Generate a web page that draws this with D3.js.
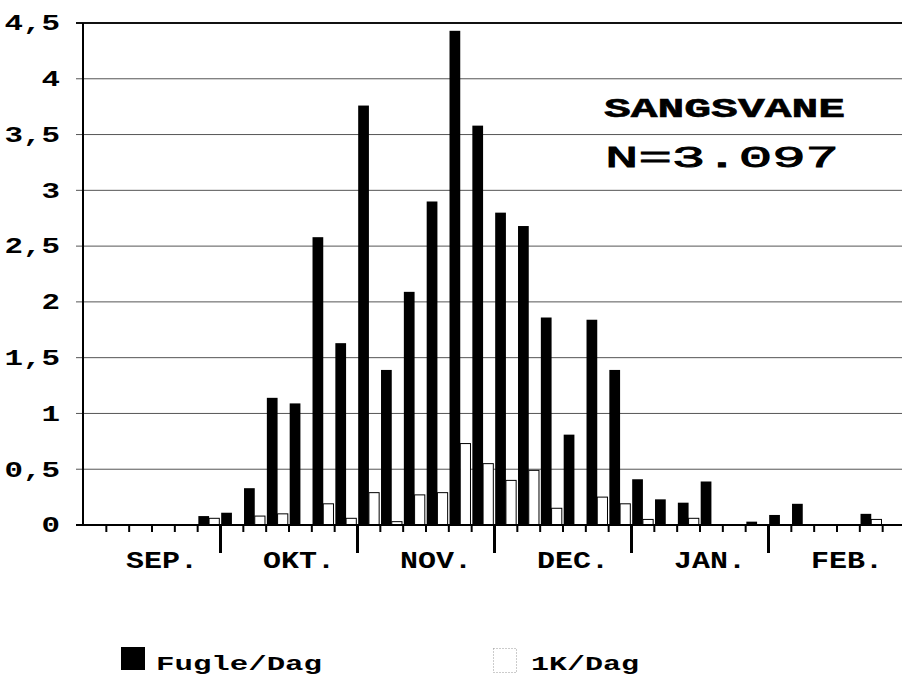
<!DOCTYPE html>
<html>
<head>
<meta charset="utf-8">
<script src="https://cdn.jsdelivr.net/npm/d3@7"></script>
<style>
  body { margin: 0; background: #fff; }
  text { font-family: "Courier New", "Liberation Mono", monospace; font-weight: bold; fill: #000; }
</style>
</head>
<body>
<script>
//chart data (5-day periods, 6 per month)
const months = ["SEP.", "OKT.", "NOV.", "DEC.", "JAN.", "FEB."];
const fugleDag = [0, 0, 0, 0, 0, 0.08,
                  0.11, 0.33, 1.14, 1.09, 2.58, 1.63,
                  3.76, 1.39, 2.09, 2.90, 4.43, 3.58,
                  2.80, 2.68, 1.86, 0.81, 1.84, 1.39,
                  0.41, 0.23, 0.20, 0.39, 0, 0.03,
                  0.09, 0.19, 0, 0, 0.10, 0];
const kDag = [0, 0, 0, 0, 0, 0.06,
              0, 0.08, 0.1, 0, 0.19, 0.06,
              0.29, 0.03, 0.27, 0.29, 0.73, 0.55,
              0.40, 0.49, 0.15, 0, 0.25, 0.19,
              0.05, 0, 0.06, 0, 0, 0,
              0, 0, 0, 0, 0.05, 0];
const yTicks = [0, 0.5, 1, 1.5, 2, 2.5, 3, 3.5, 4, 4.5];
const yTickLabels = ["0", "0,5", "1", "1,5", "2", "2,5", "3", "3,5", "4", "4,5"];
const title = "SANGSVANE";
const subtitle = "N=3.097";
const legendNames = ["Fugle/Dag", "1K/Dag"];

const width = 902, height = 677;
const nBins = months.length * 6;

const svg = d3.select("body").append("svg")
    .attr("width", width).attr("height", height);
svg.append("rect").attr("width", width).attr("height", height).attr("fill", "#fff");

//scales
const y = d3.scaleLinear().domain([0, 4.5]).range([525, 23]);
const xb = d3.scaleLinear().domain([0, nBins]).range([83.5, 905.5]);
const x0 = d3.scaleBand().domain(d3.range(nBins)).range([83.5, 905.5])
    .paddingInner(0.06).paddingOuter(0.03);
const x1 = d3.scaleBand().domain(["f", "k"]).range([0, x0.bandwidth()]);

//gridlines + y ticks
svg.append("g").selectAll("line").data(yTicks).enter().append("line")
    .attr("x1", 76).attr("x2", width)
    .attr("y1", d => y(d)).attr("y2", d => y(d))
    .attr("stroke", d => d === 4.5 ? "#111" : "#555")
    .attr("stroke-width", d => d === 4.5 ? 2 : 1);

svg.append("g").selectAll("text").data(yTicks).enter().append("text")
    .attr("x", 60).attr("y", d => y(d) + 7.3)
    .attr("text-anchor", "end")
    .attr("font-size", 22)
    .attr("textLength", (d, i) => yTickLabels[i].length * 18.5)
    .attr("lengthAdjust", "spacingAndGlyphs")
    .text((d, i) => yTickLabels[i]);

//bars
const bars = svg.append("g");
bars.selectAll(".fugle").data(fugleDag).enter().append("rect").classed("fugle", true)
    .attr("x", (d, i) => x0(i) + x1("f"))
    .attr("width", x1.bandwidth())
    .attr("y", d => y(d))
    .attr("height", d => y(0) - y(d))
    .attr("fill", "#000")
    .style("display", d => d > 0 ? null : "none");

bars.selectAll(".kdag").data(kDag).enter().append("rect").classed("kdag", true)
    .attr("x", (d, i) => x0(i) + x1("k"))
    .attr("width", x1.bandwidth() - 0.5)
    .attr("y", d => y(d))
    .attr("height", d => y(0) - y(d))
    .attr("fill", "#fff").attr("stroke", "#000").attr("stroke-width", 1)
    .style("display", d => d > 0 ? null : "none");

//axes
const ticksG = svg.append("g");
// small ticks at period boundaries
ticksG.selectAll(".tk").data(d3.range(1, nBins).filter(i => i % 6 !== 0)).enter()
    .append("line").classed("tk", true)
    .attr("x1", d => xb(d)).attr("x2", d => xb(d))
    .attr("y1", y(0)).attr("y2", y(0) + 7)
    .attr("stroke", "#000").attr("stroke-width", 2);
// month separators
ticksG.selectAll(".sep").data(d3.range(6, nBins, 6)).enter()
    .append("line").classed("sep", true)
    .attr("x1", d => xb(d)).attr("x2", d => xb(d))
    .attr("y1", y(0)).attr("y2", y(0) + 28)
    .attr("stroke", "#000").attr("stroke-width", 3);

svg.append("line").attr("x1", 76).attr("x2", width).attr("y1", y(0)).attr("y2", y(0))
    .attr("stroke", "#000").attr("stroke-width", 2);
svg.append("line").attr("x1", 83).attr("x2", 83).attr("y1", y(4.5)).attr("y2", y(0) + 1)
    .attr("stroke", "#000").attr("stroke-width", 2);

// month labels
svg.append("g").selectAll("text").data(months).enter().append("text")
    .attr("x", (d, i) => xb(i * 6 + 3) - 26)
    .attr("y", 568)
    .attr("font-size", 23)
    .attr("textLength", 72)
    .attr("lengthAdjust", "spacingAndGlyphs")
    .text(d => d);

//title
svg.append("text").attr("x", 604).attr("y", 117)
    .attr("font-size", 28).attr("textLength", 241).attr("lengthAdjust", "spacingAndGlyphs")
    .attr("stroke", "#000").attr("stroke-width", 0.6)
    .text(title);
svg.append("text").attr("x", 605).attr("y", 167)
    .attr("font-size", 30).attr("textLength", 234).attr("lengthAdjust", "spacingAndGlyphs")
    .style("font-weight", "normal").attr("stroke", "#000").attr("stroke-width", 0.9)
    .text(subtitle);

//legend
const legend = svg.append("g");
legend.append("rect").attr("x", 121).attr("y", 647).attr("width", 24).attr("height", 23).attr("fill", "#000");
legend.append("text").attr("x", 156).attr("y", 670).attr("font-size", 21)
    .attr("textLength", 166).attr("lengthAdjust", "spacingAndGlyphs").text(legendNames[0]);
legend.append("rect").attr("x", 493.5).attr("y", 648.5).attr("width", 23).attr("height", 24)
    .attr("fill", "#fff").attr("stroke", "#999").attr("stroke-dasharray", "1,2");
legend.append("text").attr("x", 531).attr("y", 670).attr("font-size", 21)
    .attr("textLength", 108).attr("lengthAdjust", "spacingAndGlyphs").text(legendNames[1]);
</script>
</body>
</html>
